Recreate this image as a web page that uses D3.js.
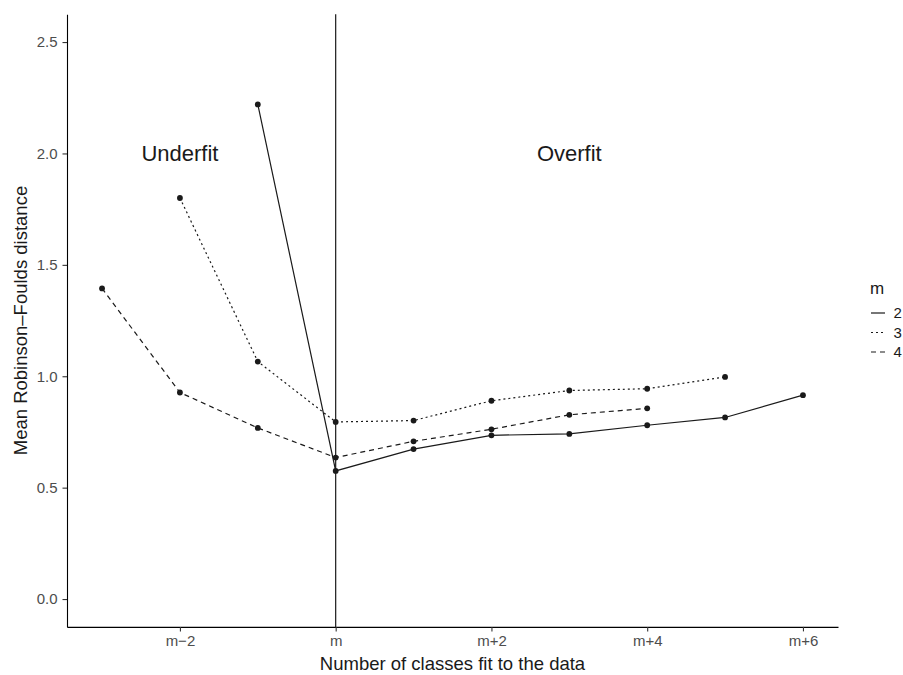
<!DOCTYPE html>
<html>
<head>
<meta charset="utf-8">
<script src="https://cdn.jsdelivr.net/npm/d3@7"></script>
<style>
	body { margin: 0; background: #fff; overflow: hidden; }
	svg { font-family: "Liberation Sans", Arial, sans-serif; display: block; }
</style>
</head>
<body>
<svg id="chart" width="903" height="675"></svg>
<script>
// offsets from m (number of classes fit relative to true m)
const xTicks = [-2, 0, 2, 4, 6];
const xTickLabels = ['m\u22122', 'm', 'm+2', 'm+4', 'm+6'];
const yTicks = [0, 0.5, 1.0, 1.5, 2.0, 2.5];

const seriesNames = ['2', '3', '4'];
const offsets2 = [-1, 0, 1, 2, 3, 4, 5, 6];
const values2 = [2.22, 0.575, 0.673, 0.735, 0.741, 0.780, 0.815, 0.915];
const offsets3 = [-2, -1, 0, 1, 2, 3, 4, 5];
const values3 = [1.80, 1.066, 0.795, 0.801, 0.890, 0.936, 0.944, 0.997];
const offsets4 = [-3, -2, -1, 0, 1, 2, 3, 4];
const values4 = [1.394, 0.927, 0.768, 0.635, 0.708, 0.762, 0.827, 0.856];

const annotations = [
	{ label: 'Underfit', x: -2, y: 2.0 },
	{ label: 'Overfit', x: 3, y: 2.0 }
];

const dashes = { '2': null, '3': '2,3', '4': '5,4' };

const series = [
	{ name: '2', pts: offsets2.map((o, i) => ({ x: o, y: values2[i] })) },
	{ name: '3', pts: offsets3.map((o, i) => ({ x: o, y: values3[i] })) },
	{ name: '4', pts: offsets4.map((o, i) => ({ x: o, y: values4[i] })) }
];

const svg = d3.select('#chart');
const panel = { left: 67, right: 838, top: 14.2, bottom: 626.9 };

// ggplot-style 5% expansion
const x = d3.scaleLinear().domain([-3.45, 6.45]).range([panel.left, panel.right]);
const y = d3.scaleLinear().domain([-0.125, 2.625]).range([panel.bottom, panel.top]);

// Axes
const xAxisG = svg.append('g')
	.attr('transform', `translate(0, ${panel.bottom})`)
	.call(d3.axisBottom(x).tickValues(xTicks).tickFormat((d, i) => xTickLabels[i]).tickSize(4.5).tickSizeOuter(0));
const yAxisG = svg.append('g')
	.attr('transform', `translate(${panel.left}, 0)`)
	.call(d3.axisLeft(y).tickValues(yTicks).tickFormat(d3.format('.1f')).tickSize(4.5).tickSizeOuter(0));

[xAxisG, yAxisG].forEach(g => {
	g.select('.domain').attr('stroke', '#000').attr('stroke-width', 1.1);
	g.selectAll('.tick line').attr('stroke', '#333').attr('stroke-width', 1.1);
	g.selectAll('.tick text').attr('fill', '#4d4d4d').style('font-size', '15px');
});
xAxisG.selectAll('.tick text').attr('dy', null).attr('y', 19.5);
yAxisG.selectAll('.tick text').attr('x', -9.5);

// Axis titles
svg.append('text')
	.attr('x', (panel.left + panel.right) / 2)
	.attr('y', 670)
	.attr('text-anchor', 'middle')
	.attr('fill', '#1a1a1a')
	.style('font-size', '18.5px')
	.text('Number of classes fit to the data');

svg.append('text')
	.attr('transform', 'rotate(-90)')
	.attr('x', -(panel.top + panel.bottom) / 2)
	.attr('y', 27)
	.attr('text-anchor', 'middle')
	.attr('fill', '#1a1a1a')
	.style('font-size', '18.5px')
	.text('Mean Robinson\u2013Foulds distance');

// Vertical line at m
svg.append('line')
	.attr('x1', x(0)).attr('x2', x(0))
	.attr('y1', panel.top).attr('y2', panel.bottom)
	.attr('stroke', '#1a1a1a')
	.attr('stroke-width', 1.2);

// Lines
const line = d3.line().x(d => x(d.x)).y(d => y(d.y));
svg.append('g').selectAll('path').data(series).join('path')
	.attr('d', d => line(d.pts))
	.attr('fill', 'none')
	.attr('stroke', '#1a1a1a')
	.attr('stroke-width', 1.2)
	.attr('stroke-dasharray', d => dashes[d.name]);

// Points
svg.append('g').selectAll('circle').data(series.flatMap(s => s.pts)).join('circle')
	.attr('cx', d => x(d.x))
	.attr('cy', d => y(d.y))
	.attr('r', 2.9)
	.attr('fill', '#1a1a1a');

// Annotations
svg.append('g').selectAll('text').data(annotations).join('text')
	.attr('x', d => x(d.x))
	.attr('y', d => y(d.y))
	.attr('dy', '0.35em')
	.attr('text-anchor', 'middle')
	.style('font-size', '22px')
	.attr('fill', '#1a1a1a')
	.text(d => d.label);

// Legend, squeezed against the right edge as in the source
const legend = svg.append('g').attr('transform', 'translate(869, 0)');
legend.append('text')
	.attr('x', 1).attr('y', 294)
	.attr('fill', '#1a1a1a')
	.style('font-size', '17px')
	.text('m');
const keys = legend.selectAll('g.key').data(seriesNames).join('g')
	.attr('class', 'key')
	.attr('transform', (d, i) => `translate(0, ${313 + i * 19.5})`);
keys.append('line')
	.attr('x1', 2).attr('x2', 16)
	.attr('stroke', '#1a1a1a')
	.attr('stroke-width', 1.2)
	.attr('stroke-dasharray', d => dashes[d]);
keys.append('text')
	.attr('x', 24.5).attr('dy', '0.35em')
	.attr('fill', '#1a1a1a')
	.style('font-size', '15px')
	.text(d => d);
</script>
</body>
</html>
